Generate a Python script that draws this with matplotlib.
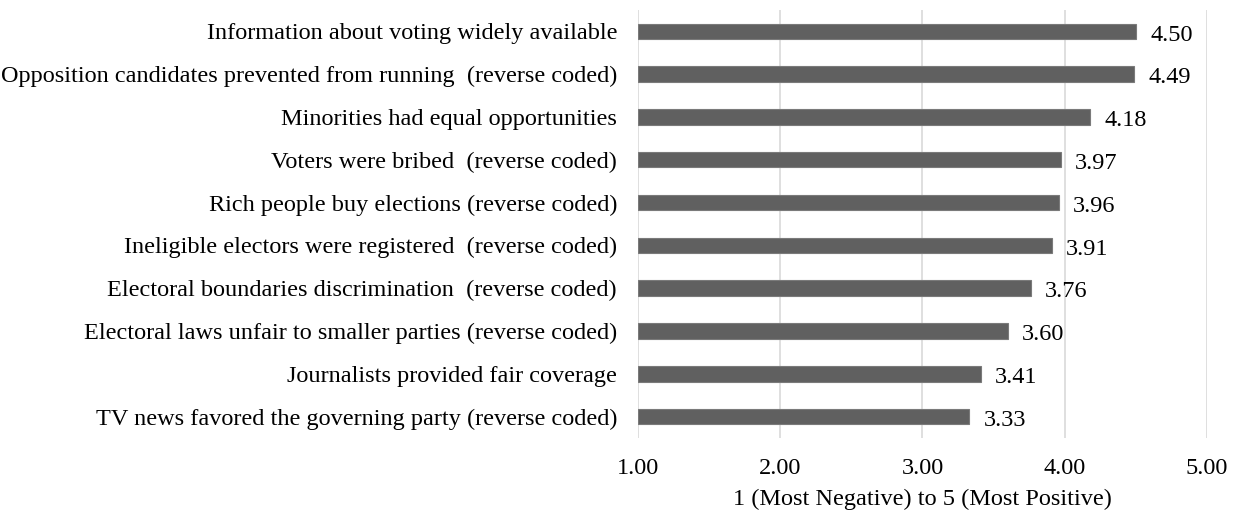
# electoral integrity ratings, horizontal bar chart
import matplotlib.pyplot as plt
import numpy as np

plt.rcParams['font.family'] = ['Liberation Serif', 'DejaVu Serif']

# items listed top to bottom, with their mean scores
items = [
    "Information about voting widely available",
    "Opposition candidates prevented from running  (reverse coded)",
    "Minorities had equal opportunities",
    "Voters were bribed  (reverse coded)",
    "Rich people buy elections (reverse coded)",
    "Ineligible electors were registered  (reverse coded)",
    "Electoral boundaries discrimination  (reverse coded)",
    "Electoral laws unfair to smaller parties (reverse coded)",
    "Journalists provided fair coverage",
    "TV news favored the governing party (reverse coded)",
]
scores = [4.50, 4.49, 4.18, 3.97, 3.96, 3.91, 3.76, 3.60, 3.41, 3.33]
xticks = [1, 2, 3, 4, 5]
base = 1.0
fs = 17.5

fig = plt.figure(figsize=(12.38, 5.17), dpi=100)
ax = fig.add_axes([0.5153, 0.1528, 0.4597, 0.8279])

# bars run from the bottom of the scale, first item on top
pos = np.arange(len(items))[::-1]
vals = np.array(scores)
ax.barh(pos, vals - base, left=base, height=0.36,
        color='#606060', edgecolor='#7a7a7a', linewidth=0.8, zorder=3)

# value labels at the end of each bar
for p, v in zip(pos, vals):
    ax.text(v + 0.1, p - 0.03, "%.2f" % v, va='center_baseline', ha='left',
            fontsize=fs, color='#000000', zorder=4)

ax.set_xlim(1, 5)
ax.set_ylim(-0.5, len(items) - 0.5)
ax.set_xticks(xticks)
ax.set_xticklabels(["%.2f" % t for t in xticks], fontsize=fs)
ax.set_yticks(pos)
ax.set_yticklabels(items, fontsize=fs)
ax.tick_params(axis='both', length=0)
ax.tick_params(axis='y', pad=15)
ax.tick_params(axis='x', pad=14.5)

# light vertical gridlines only
ax.grid(axis='x', color='#d9d9d9', linewidth=1.2, zorder=0)
ax.grid(axis='y', visible=False)
for s in ax.spines.values():
    s.set_visible(False)

ax.set_xlabel("1 (Most Negative) to 5 (Most Positive)", fontsize=fs, labelpad=7)

fig.savefig("out.png", dpi=100)
